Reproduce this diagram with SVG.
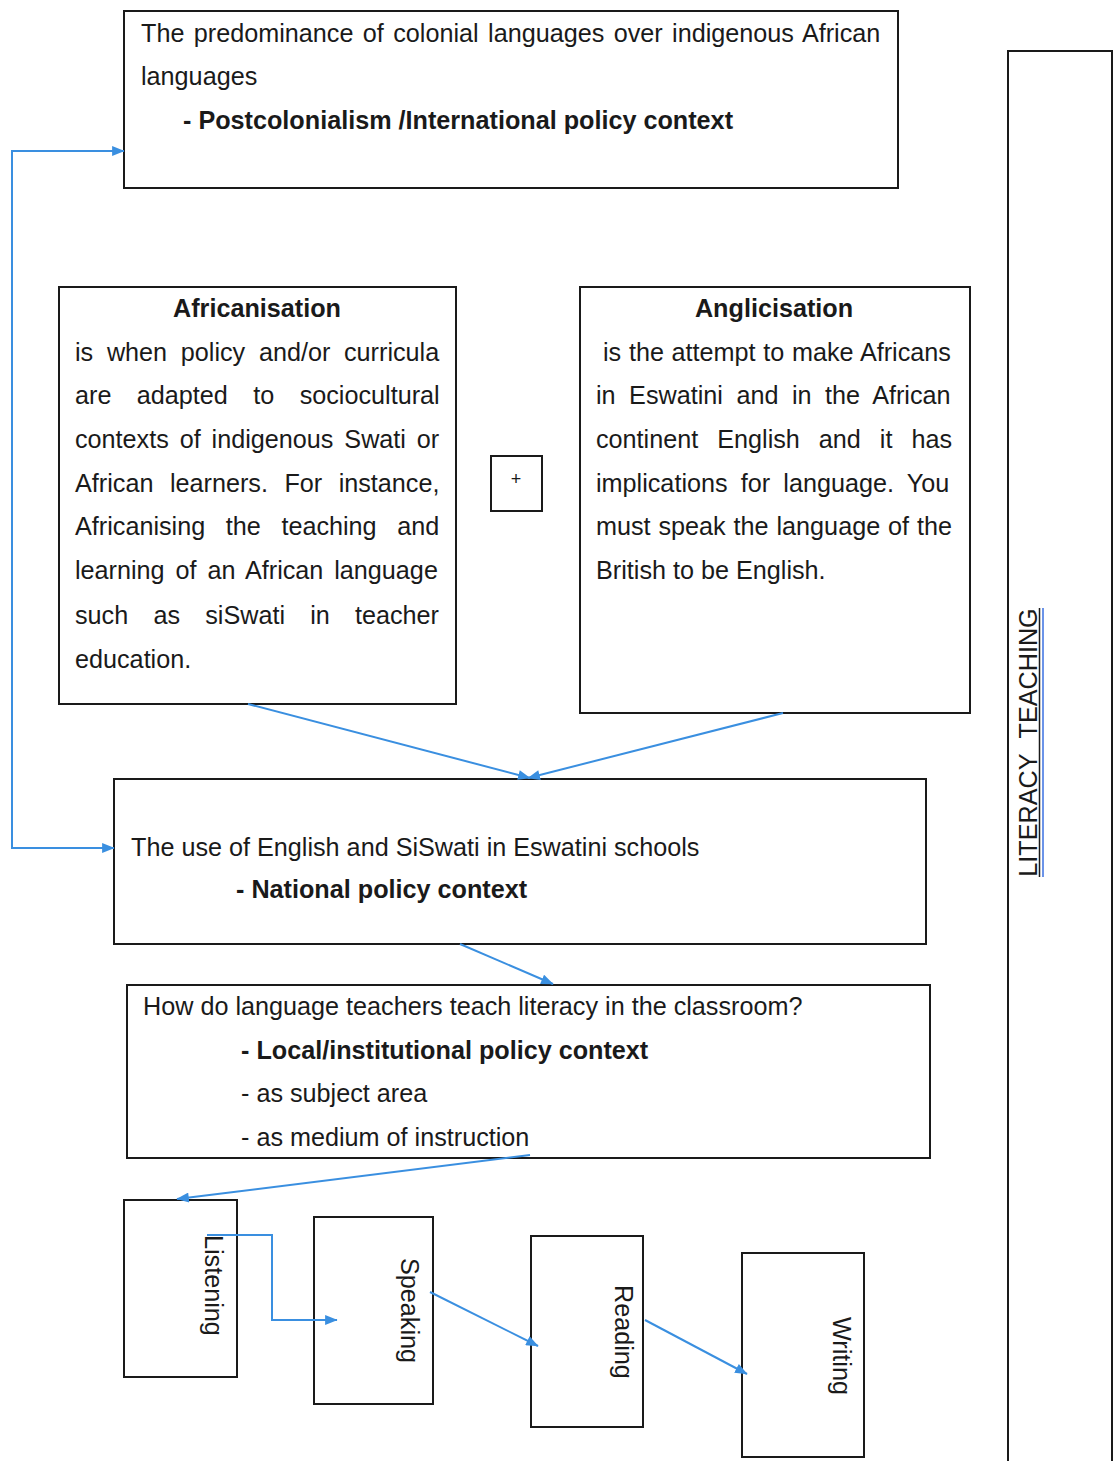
<svg xmlns="http://www.w3.org/2000/svg" width="1113" height="1461" viewBox="0 0 1113 1461">
<style>
.box{fill:#fff;stroke:#1a1a1a;stroke-width:2}
.t{font-family:"Liberation Sans",Arial,sans-serif;font-size:25.2px;fill:#1a1a1a}
.b{font-weight:bold}
.c{fill:none;stroke:#3a8fe0;stroke-width:2}
</style>
<defs>
<marker id="arr" viewBox="0 0 10 8" refX="9.5" refY="4" markerWidth="13" markerHeight="10" markerUnits="userSpaceOnUse" orient="auto-start-reverse">
<path d="M0,0 L10,4 L0,8 z" fill="#3a8fe0"/>
</marker>
</defs>
<rect width="1113" height="1461" fill="#fff"/>

<g id="literacy-teaching">
<rect class="box" x="1008" y="51" width="104" height="1412"/>
<text class="t" transform="translate(1037,742.5) rotate(-90)" text-anchor="middle" word-spacing="9">LITERACY TEACHING</text>
<line x1="1039.5" y1="608" x2="1039.5" y2="877" stroke="#1a1a1a" stroke-width="1.5"/>
<line x1="1043" y1="608" x2="1043" y2="877" stroke="#3a6fe0" stroke-width="1.5"/>
</g>

<g id="postcolonial">
<rect class="box" x="124" y="11" width="774" height="177"/>
<text class="t" x="141" y="42" word-spacing="2.4">The predominance of colonial languages over indigenous African</text>
<text class="t" x="141" y="85">languages</text>
<text class="t b" x="183" y="129">- Postcolonialism /International policy context</text>
</g>

<g id="africanisation">
<rect class="box" x="59" y="287" width="397" height="417"/>
<text class="t b" x="257" y="317" text-anchor="middle">Africanisation</text>
<text class="t" x="75" y="361" word-spacing="6.7">is when policy and/or curricula</text>
<text class="t" x="75" y="404" word-spacing="18.4">are adapted to sociocultural</text>
<text class="t" x="75" y="448" word-spacing="3.9">contexts of indigenous Swati or</text>
<text class="t" x="75" y="492" word-spacing="9.5">African learners. For instance,</text>
<text class="t" x="75" y="535" word-spacing="13.6">Africanising the teaching and</text>
<text class="t" x="75" y="579" word-spacing="3.9">learning of an African language</text>
<text class="t" x="75" y="624" word-spacing="18.2">such as siSwati in teacher</text>
<text class="t" x="75" y="668">education.</text>
</g>

<g id="plus">
<rect class="box" x="491" y="456" width="51" height="55"/>
<text class="t" x="516" y="485" text-anchor="middle" style="font-size:18px">+</text>
</g>

<g id="anglicisation">
<rect class="box" x="580" y="287" width="390" height="426"/>
<text class="t b" x="774" y="317" text-anchor="middle">Anglicisation</text>
<text class="t" x="603" y="361" word-spacing="0.7">is the attempt to make Africans</text>
<text class="t" x="596" y="404" word-spacing="6.5">in Eswatini and in the African</text>
<text class="t" x="596" y="448" word-spacing="12">continent English and it has</text>
<text class="t" x="596" y="492" word-spacing="6.2">implications for language. You</text>
<text class="t" x="596" y="535" word-spacing="0.9">must speak the language of the</text>
<text class="t" x="596" y="579">British to be English.</text>
</g>

<g id="national">
<rect class="box" x="114" y="779" width="812" height="165"/>
<text class="t" x="131" y="856">The use of English and SiSwati in Eswatini schools</text>
<text class="t b" x="236" y="898">- National policy context</text>
</g>

<g id="local">
<rect class="box" x="127" y="985" width="803" height="173"/>
<text class="t" x="143" y="1015">How do language teachers teach literacy in the classroom?</text>
<text class="t b" x="241" y="1059">- Local/institutional policy context</text>
<text class="t" x="241" y="1102">- as subject area</text>
<text class="t" x="241" y="1146">- as medium of instruction</text>
</g>

<g id="listening">
<rect class="box" x="124" y="1200" width="113" height="177"/>
<text class="t" transform="translate(205,1235) rotate(90)">Listening</text>
</g>
<g id="speaking">
<rect class="box" x="314" y="1217" width="119" height="187"/>
<text class="t" transform="translate(401,1258) rotate(90)">Speaking</text>
</g>
<g id="reading">
<rect class="box" x="531" y="1236" width="112" height="191"/>
<text class="t" transform="translate(615,1285) rotate(90)">Reading</text>
</g>
<g id="writing">
<rect class="box" x="742" y="1253" width="122" height="204"/>
<text class="t" transform="translate(833,1317) rotate(90)">Writing</text>
</g>

<g id="connectors">
<path class="c" d="M124,151 H12 V848 H114" marker-start="url(#arr)" marker-end="url(#arr)"/>
<path class="c" d="M248,704 L530,778" marker-end="url(#arr)"/>
<path class="c" d="M783,713 L528,778" marker-end="url(#arr)"/>
<path class="c" d="M460,944 L553,984" marker-end="url(#arr)"/>
<path class="c" d="M530,1155 L177,1199" marker-end="url(#arr)"/>
<path class="c" d="M207,1235 H272 V1320 H337" marker-end="url(#arr)"/>
<path class="c" d="M430,1292 L538,1346" marker-end="url(#arr)"/>
<path class="c" d="M645,1320 L747,1374" marker-end="url(#arr)"/>
</g>
</svg>
